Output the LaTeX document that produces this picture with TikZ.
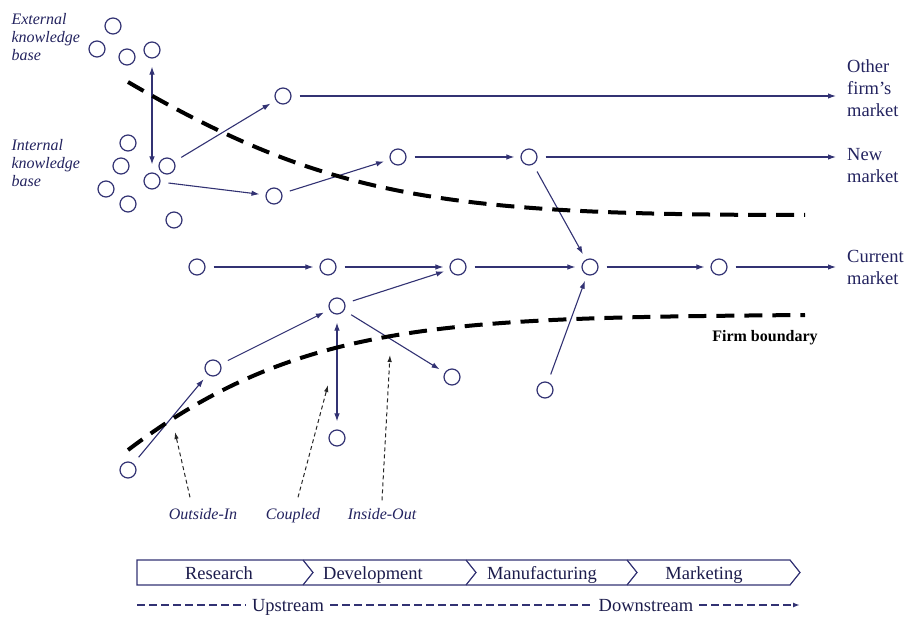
\documentclass[tikz,border=0pt]{standalone}
\usepackage{fontspec}
\setmainfont{Liberation Serif}
\usetikzlibrary{arrows.meta}
\definecolor{navyLine}{RGB}{50,50,115}
\definecolor{navyText}{RGB}{35,35,95}

\begin{document}
\begin{tikzpicture}
[x=1pt,y=-1pt,
  nodeDecorate/.style={shape=circle,inner sep=0pt,minimum size=16pt,draw=navyLine,line width=1.2pt},%
  lineDecorate/.style={-{Latex[length=8pt,width=5.5pt]},navyLine,line width=1.1pt,shorten <=8pt,shorten >=6pt},%
  bothDecorate/.style={{Latex[length=8pt,width=5.5pt]}-{Latex[length=8pt,width=5.5pt]},navyLine,line width=1.1pt,shorten <=8pt,shorten >=8pt},%
  pointerDecorate/.style={-{Latex[length=7pt,width=4.5pt]},black!85,line width=1pt,dash pattern=on 4pt off 3pt},%
  boundaryDecorate/.style={black,line width=4pt,dash pattern=on 18pt off 10pt},%
  barDecorate/.style={navyLine,line width=1.2pt,line join=miter},%
  streamDecorate/.style={navyLine,line width=1.4pt,dash pattern=on 8pt off 4pt},%
  kbLabel/.style={anchor=west,align=left,text=navyText,font=\itshape\fontsize{16}{18}\selectfont},%
  marketLabel/.style={anchor=west,align=left,text=navyText,inner sep=0pt,font=\fontsize{18.5}{22}\selectfont},%
  modeLabel/.style={text=navyText,text height=11pt,text depth=0pt,inner sep=0pt,font=\itshape\fontsize{16}{18}\selectfont},%
  stageLabel/.style={text=navyText!80!black,text height=13pt,text depth=0pt,inner sep=0pt,font=\fontsize{18.5}{22}\selectfont},%
  streamLabel/.style={text=navyText!80!black,text height=16pt,text depth=4pt,inner xsep=6pt,inner ysep=0pt,font=\fontsize{18.5}{22}\selectfont}]
\useasboundingbox (0,0) rectangle (910,617);
%%
%% knowledge bases
\node (extLabel) at (8,37) [kbLabel] {External\\knowledge\\base};
\node (intLabel) at (8,163) [kbLabel] {Internal\\knowledge\\base};
%% nodes or vertices
\foreach \nodename/\x/\y in {
  e1/113/26, e2/97/49, e3/127/57, e4/152/50,
  i1/128/143, i2/121/166, i3/106/189, i4/128/204, i5/152/181,
  i6/167/166, i7/174/220}
{
  \node (\nodename) at (\x,\y) [nodeDecorate] {};
}
\foreach \nodename/\x/\y in {
  o1/283/96, n1/274/196, n2/398/157, n3/529/157,
  c1/197/267, c2/328/267, c3/458/267, c4/590/267, c5/719/267,
  b1/337/306, b2/213/368, b3/128/470, b4/337/438, b5/452/377,
  b6/545/390}
{
  \node (\nodename) at (\x,\y) [nodeDecorate] {};
}
%%
%% markets
\node (otherLabel) at (847,88) [marketLabel] {Other\\firm's\\market};
\node (newLabel) at (847,166) [marketLabel] {New\\market};
\node (currentLabel) at (847,267) [marketLabel] {Current\\market};
\coordinate (otherEnd) at (836,96);
\coordinate (newEnd) at (836,157);
\coordinate (currentEnd) at (836,267);
%% edges or lines
\path
\foreach \startnode/\endnode in {
  i6/o1, i5/n1, n1/n2, n2/n3, n3/c4, c1/c2, c2/c3, c3/c4, c4/c5,
  b3/b2, b2/b1, b1/c3, b1/b5, b6/c4}
{
  (\startnode) edge[lineDecorate] (\endnode)
};
\path
\foreach \startnode/\endnode in {o1/otherEnd, n3/newEnd, c5/currentEnd}
{
  (\startnode) edge[lineDecorate,shorten >=0pt] (\endnode)
};
\path
\foreach \startnode/\endnode in {e4/i5, b1/b4}
{
  (\startnode) edge[bothDecorate] (\endnode)
};
%%
%% boundaries
\draw[boundaryDecorate] (128,82) .. controls (330,200) and (450,215) .. (805,215);
\draw[boundaryDecorate] (128,450) .. controls (300,320) and (450,318) .. (805,315);
\node (firmLabel) at (765,338) [font=\bfseries\fontsize{16}{18}\selectfont] {Firm boundary};
%%
%% open innovation modes
\node (outsideIn) at (203,514) [modeLabel] {Outside-In};
\node (coupled) at (293,514) [modeLabel] {Coupled};
\node (insideOut) at (382,514) [modeLabel] {Inside-Out};
\coordinate (outsideInTip) at (175,432);
\coordinate (coupledTip) at (328,385);
\coordinate (insideOutTip) at (390,355);
\draw[pointerDecorate] ([xshift=-13pt,yshift=11pt]outsideIn.north) -- (outsideInTip);
\draw[pointerDecorate] ([xshift=5pt,yshift=11pt]coupled.north) -- (coupledTip);
\draw[pointerDecorate] ([yshift=8pt]insideOut.north) -- (insideOutTip);
%%
%% value chain
\draw[barDecorate] (137,560) -- (790,560) -- (800,572.5) -- (790,585) -- (137,585) -- cycle;
\foreach \sx in {303,466,627}
{
  \draw[barDecorate] (\sx,560) -- (\sx+10,572.5) -- (\sx,585);
}
\foreach \stagename/\x/\stagetext in {
  research/219/Research, development/373/Development,
  manufacturing/542/Manufacturing, marketing/704/Marketing}
{
  \node (\stagename) at (\x,572.5) [stageLabel] {\stagetext};
}
\node (upstream) at (288,605) [streamLabel] {Upstream};
\node (downstream) at (646,605) [streamLabel] {Downstream};
\coordinate (streamStart) at (137,605);
\coordinate (streamEnd) at (800,605);
\draw[streamDecorate] (streamStart) -- (upstream);
\draw[streamDecorate] (upstream) -- (downstream);
\draw[streamDecorate,-{Latex[length=7pt,width=5pt]}] (downstream) -- (streamEnd);
\end{tikzpicture}
\end{document}
